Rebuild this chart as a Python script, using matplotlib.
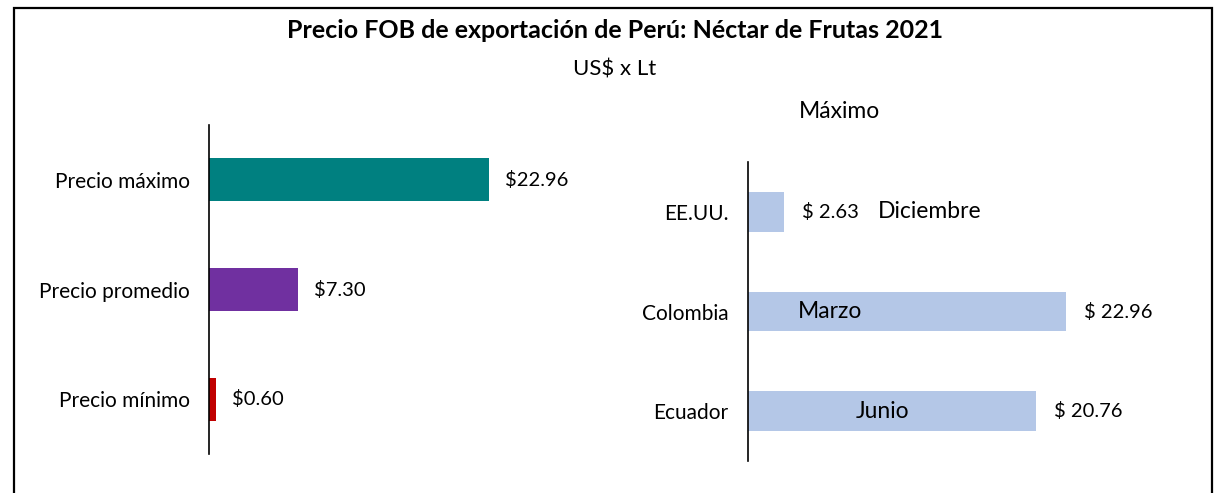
import matplotlib.pyplot as plt
from matplotlib.patches import Rectangle

plt.rcParams['font.family'] = ['Lato', 'DejaVu Sans']

# left panel: summary prices
precio_labels = ["Precio máximo", "Precio promedio", "Precio mínimo"]
precio_values = [22.96, 7.30, 0.60]
precio_colors = ["#008080", "#7030A0", "#C00000"]

# right panel: max price by market
pais_labels = ["EE.UU.", "Colombia", "Ecuador"]
pais_values = [2.63, 22.96, 20.76]
pais_meses = ["Diciembre", "Marzo", "Junio"]

W, H = 1219, 493
fig = plt.figure(figsize=(W / 100, H / 100), dpi=100)


def px_axes(x0, y0, x1, y1):
    # pixel box (top-left origin) -> figure axes
    return fig.add_axes([x0 / W, 1 - y1 / H, (x1 - x0) / W, (y1 - y0) / H])


# outer frame
fig.patches.append(Rectangle((14 / W, -0.05), (1212 - 14) / W, 1 - 8 / H + 0.05,
                             transform=fig.transFigure, fill=False,
                             edgecolor="black", linewidth=1.6))

fig.text(615 / W, 1 - 31 / H, "Precio FOB de exportación de Perú: Néctar de Frutas 2021",
         ha="center", va="center", fontsize=18, fontweight="bold")
fig.text(615 / W, 1 - 70 / H, "US$ x Lt", ha="center", va="center", fontsize=16)
fig.text(839 / W, 1 - 112 / H, "Máximo", ha="center", va="center", fontsize=16.5)


def style(ax):
    for s in ["top", "right", "bottom"]:
        ax.spines[s].set_visible(False)
    ax.spines["left"].set_linewidth(1.2)
    ax.set_xticks([])
    ax.tick_params(axis="y", length=0, pad=14, labelsize=15)
    ax.set_ylim(2.5, -0.5)


# left
ax1 = px_axes(209, 125, 609, 454)
ypos = range(len(precio_labels))
ax1.barh(list(ypos), precio_values, height=0.39, color=precio_colors)
ax1.set_yticks(list(ypos), precio_labels)
ax1.set_xlim(0, 400 / 12.2)
style(ax1)
for y, v in zip(ypos, precio_values):
    ax1.annotate(f"${v:.2f}", (v, y), xytext=(16, 0), textcoords="offset pixels",
                 ha="left", va="center", fontsize=14.5)

# right
ax2 = px_axes(748, 162, 1198, 461)
ypos = range(len(pais_labels))
ax2.barh(list(ypos), pais_values, height=0.4, color="#B4C7E7")
ax2.set_yticks(list(ypos), pais_labels)
ax2.set_xlim(0, 450 / 13.85)
style(ax2)
mes_offset = [None, 82, 135]  # pixels from axis for labels inside the bars
for y, v, m, off in zip(ypos, pais_values, pais_meses, mes_offset):
    ax2.annotate(f"$ {v:.2f}", (v, y), xytext=(18, 0), textcoords="offset pixels",
                 ha="left", va="center", fontsize=14.5)
    if off is None:
        ax2.annotate(m, (v, y), xytext=(93, 0), textcoords="offset pixels",
                     ha="left", va="center", fontsize=16.5)
    else:
        ax2.annotate(m, (0, y), xytext=(off, 0), textcoords="offset pixels",
                     ha="center", va="center", fontsize=16.5)

fig.savefig("out.png", dpi=100)
